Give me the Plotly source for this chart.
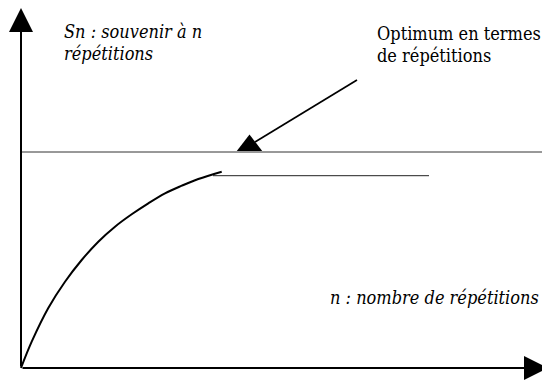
import plotly.graph_objects as go

# Sn(n) curve (origin at the corner of the axes)
n_vals = [0, 10.7, 27.3, 44, 60.7, 77.3, 94, 110.7, 127.3, 144, 160.7, 177.3, 200.7]
sn_vals = [0, 26.3, 60, 86.3, 108, 126.3, 141.3, 153.7, 164.7, 174.7, 182.3, 189, 196.3]

optimum_level = 216
optimum_span = [0, 529]
plateau_level = 192.3
plateau_span = [192, 408]

pointer_n = [336, 234]
pointer_sn = [288, 226]
pointer_head = (228.5, 222.5)

axis_end_x = 527
axis_end_y = 360

FONT = "DejaVu Serif Condensed, DejaVu Serif"

fig = go.Figure()

# optimum level (thin)
fig.add_trace(go.Scatter(
    x=optimum_span, y=[optimum_level] * 2, mode="lines",
    line=dict(color="#333333", width=1), hoverinfo="skip",
))
# plateau line
fig.add_trace(go.Scatter(
    x=plateau_span, y=[plateau_level] * 2, mode="lines",
    line=dict(color="#222222", width=1), hoverinfo="skip",
))
# memory curve
fig.add_trace(go.Scatter(
    x=n_vals, y=sn_vals, mode="lines",
    line=dict(color="black", width=2, shape="spline"), hoverinfo="skip",
))
# pointer to the optimum
fig.add_trace(go.Scatter(
    x=pointer_n, y=pointer_sn, mode="lines",
    line=dict(color="black", width=1.7), hoverinfo="skip",
))
fig.add_trace(go.Scatter(
    x=[pointer_head[0]], y=[pointer_head[1]], mode="markers",
    marker=dict(symbol="triangle-up", size=22, color="black", line=dict(width=0)),
    hoverinfo="skip",
))

# axes with arrowheads
for tip, tail in [((0, axis_end_y), (0, 0)), ((axis_end_x, 0), (0, 0))]:
    fig.add_annotation(
        x=tip[0], y=tip[1], ax=tail[0], ay=tail[1],
        xref="x", yref="y", axref="x", ayref="y",
        text="", showarrow=True, arrowhead=2, arrowsize=2.4, arrowwidth=2,
        arrowcolor="black", standoff=0, startstandoff=0,
    )

labels = [
    ("<i>Sn : souvenir à n</i>", 41, 337),
    ("<i>répétitions</i>", 41, 315),
    ("Optimum en termes", 354, 335),
    ("de répétitions", 354, 313),
    ("<i>n : nombre de répétitions</i>", 307, 71),
]
for txt, x, y in labels:
    fig.add_annotation(
        x=x, y=y, xref="x", yref="y", text=txt, showarrow=False,
        xanchor="left", yanchor="middle",
        font=dict(family=FONT, size=18, color="black"),
    )

# the page body has an 8px margin, so the plot starts at (8, 8)
fig.update_layout(
    width=542, height=373,
    margin=dict(l=0, r=0, t=0, b=0),
    paper_bgcolor="white", plot_bgcolor="white",
    font=dict(family=FONT),
    showlegend=False,
    xaxis=dict(range=[-13, 529], visible=False, fixedrange=True),
    yaxis=dict(range=[-13, 360], visible=False, fixedrange=True),
)

fig.write_html("out.html", config={"displayModeBar": False})
